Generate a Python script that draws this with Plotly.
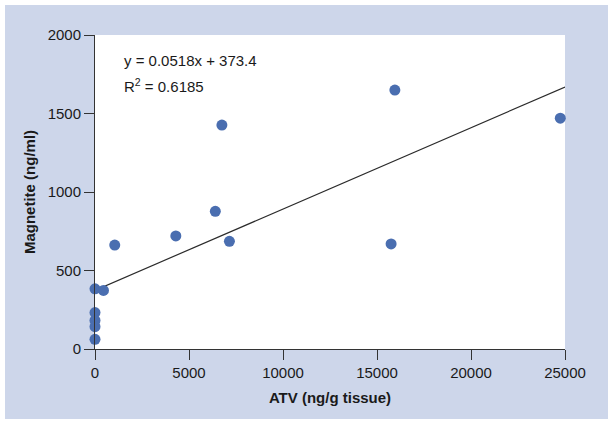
import plotly.graph_objs as go

# データ
atv = [0, 450, 0, 0, 0, 0, 1050, 4300, 6400, 6750, 7150, 15750, 15950, 24750]
magnetite = [383, 373, 232, 182, 142, 62, 662, 720, 877, 1426, 686, 669, 1649, 1470]

# 近似直線 (y = slope*x + intercept)
slope = 0.0518
intercept = 373.4
r2 = 0.6185
fit_x = [0, 25000]

x_ticks = [0, 5000, 10000, 15000, 20000, 25000]
y_ticks = [0, 500, 1000, 1500, 2000]

BG = '#cdd6ea'
DOT = '#4a6eb0'
FONT = 'Liberation Sans, Arial, sans-serif'

fit_y = [slope * v + intercept for v in fit_x]

fig = go.Figure()
fig.add_trace(go.Scatter(x=fit_x, y=fit_y, mode='lines',
                         line=dict(color='#2b2b2b', width=1.2),
                         showlegend=False, hoverinfo='skip'))
fig.add_trace(go.Scatter(x=atv, y=magnetite, mode='markers',
                         marker=dict(color=DOT, size=11),
                         cliponaxis=False, showlegend=False))

# 背景 (外枠の青と白いプロット領域)
fig.add_shape(type='rect', xref='paper', yref='paper',
              x0=-0.1915, x1=1.0915, y0=-0.2229, y1=1.0955,
              fillcolor=BG, line_width=0, layer='below')
fig.add_shape(type='rect', xref='paper', yref='paper',
              x0=0, x1=1, y0=0, y1=1,
              fillcolor='white', line_width=0, layer='below')

fig.add_annotation(x=0.057, y=0.92, xref='paper', yref='paper',
                   text='y = %.4fx + %.1f' % (slope, intercept),
                   showarrow=False, xanchor='left', yanchor='middle',
                   font=dict(size=15, color='#1a1a1a'))
fig.add_annotation(x=0.057, y=0.84, xref='paper', yref='paper',
                   text='R<sup>2</sup> = %.4f' % r2,
                   showarrow=False, xanchor='left', yanchor='middle',
                   font=dict(size=15, color='#1a1a1a'))

axis_common = dict(showline=True, linecolor='#333333', linewidth=1,
                   ticks='outside', ticklen=10, tickcolor='#333333',
                   showgrid=False, zeroline=False, tickformat='d',
                   tickfont=dict(size=15, color='#1a1a1a'))

fig.update_layout(
    width=614, height=426,
    margin=dict(l=95, r=49, t=35, b=77),
    paper_bgcolor='white',
    plot_bgcolor='rgba(0,0,0,0)',
    font=dict(family=FONT),
    xaxis=dict(range=[0, 25000], tickvals=x_ticks,
               title=dict(text='<b>ATV (ng/g tissue)</b>', standoff=12,
                          font=dict(size=15, color='#1a1a1a')),
               **axis_common),
    yaxis=dict(range=[0, 2000], tickvals=y_ticks,
               title=dict(text='<b>Magnetite (ng/ml)</b>', standoff=8,
                          font=dict(size=15, color='#1a1a1a')),
               **axis_common),
)

# ページ余白をなくす
fig.write_html('out.html', config={'displayModeBar': False},
               post_script="document.body.style.margin='0';")
